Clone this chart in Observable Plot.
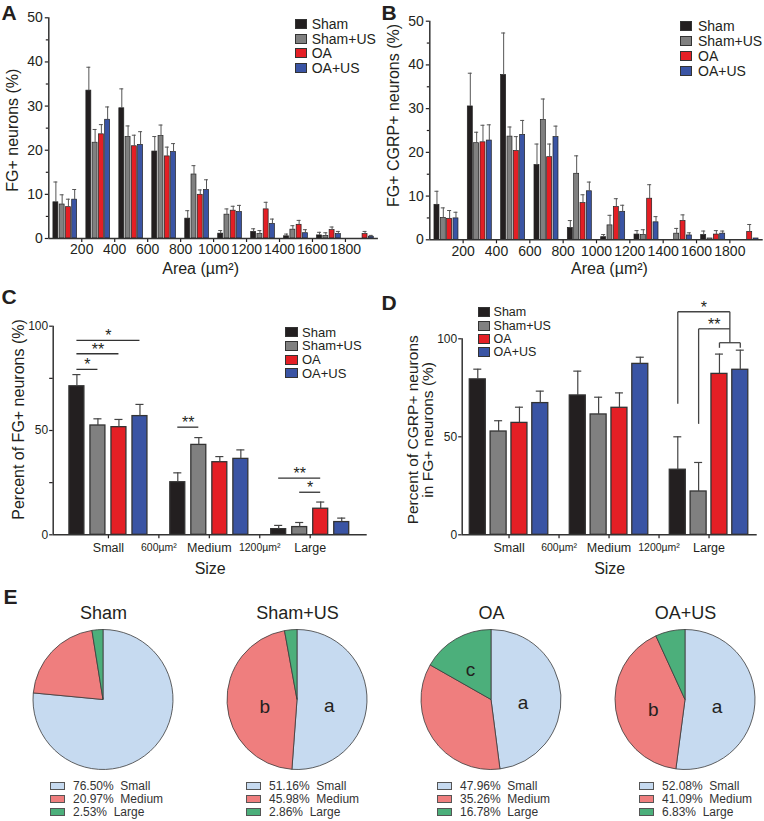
<!DOCTYPE html>
<html><head><meta charset="utf-8">
<script src="https://cdn.jsdelivr.net/npm/d3@7"></script>
<script src="https://cdn.jsdelivr.net/npm/@observablehq/plot@0.6"></script>
<style>
body{margin:0;background:#fff;}
#fig{position:relative;width:764px;height:821px;overflow:hidden;background:#fff;font-family:"Liberation Sans",Arial,Helvetica,sans-serif;color:#231f20;}
.letter{position:absolute;font-weight:bold;font-size:21px;line-height:21px;}
.legend{position:absolute;}
.row{display:flex;align-items:center;white-space:pre;}
.sw{box-sizing:border-box;border:1px solid #333;flex:none;}
</style></head>
<body><div id="fig"></div>
<script>
const FONT = "'Liberation Sans', Arial, Helvetica, sans-serif";
const INK = "#231f20";

// ---------- shared ----------
const groups = ["Sham", "Sham+US", "OA", "OA+US"];
const groupColors = ["#231f20", "#808080", "#e41f25", "#3a54a4"];

// ---------- Panel A: FG+ neurons (%) by area ----------
const areaBins  = [0, 200, 400, 600, 800, 1000, 1200, 1400, 1600, 1800];
const areaTicks = [200, 400, 600, 800, 1000, 1200, 1400, 1600, 1800];
const fgSham      = [8.2, 33.5, 29.5, 19.7, 4.5, 1.1, 1.5, 0.5, 0.7, 0];
const fgShamErr   = [4.6, 5.3, 4.4, 3.4, 1.8, 0.7, 0.7, 0.5, 0.7, 0];
const fgShamUS    = [7.7, 21.7, 23.0, 23.2, 14.5, 5.4, 1.0, 2.0, 0.6, 0];
const fgShamUSErr = [2.2, 3.0, 2.5, 2.5, 2.0, 1.3, 0.8, 0.9, 0.7, 0];
const fgOA        = [7.1, 23.6, 20.9, 18.6, 9.9, 6.3, 6.6, 3.1, 1.9, 1.0];
const fgOAErr     = [1.8, 2.2, 2.5, 2.1, 1.1, 1.0, 1.6, 1.0, 0.7, 0.6];
const fgOAUS      = [8.8, 26.9, 21.2, 19.6, 11.0, 6.0, 3.3, 1.2, 1.0, 0.4];
const fgOAUSErr   = [2.3, 2.9, 3.0, 1.9, 2.3, 1.5, 1.1, 0.8, 0.6, 0.3];

// ---------- Panel B: FG+ CGRP+ neurons (%) by area ----------
const cgSham      = [8.0, 30.5, 37.7, 17.1, 2.7, 0.6, 1.2, 0, 1.1, 0];
const cgShamErr   = [3.1, 7.6, 9.6, 4.8, 1.7, 0.6, 0.9, 0, 0.9, 0];
const cgShamUS    = [5.0, 22.1, 23.6, 27.4, 15.1, 3.3, 1.1, 1.4, 0.3, 0];
const cgShamUSErr = [2.3, 2.5, 2.2, 4.8, 4.1, 2.3, 1.2, 1.2, 0, 0];
const cgOA        = [4.8, 22.3, 20.3, 18.9, 8.4, 7.5, 9.4, 4.3, 1.2, 1.8];
const cgOAErr     = [1.9, 3.9, 3.3, 3.0, 1.9, 1.9, 3.2, 1.4, 0.9, 1.7];
const cgOAUS      = [4.9, 22.7, 24.0, 23.5, 11.1, 6.4, 4.0, 1.0, 1.4, 0.3];
const cgOAUSErr   = [1.4, 3.6, 3.3, 2.5, 2.1, 1.5, 1.3, 0.6, 0.6, 0];

// ---------- Panel C: Percent of FG+ neurons by size ----------
const sizes = ["Small", "Medium", "Large"];
const sizeBounds = [600, 1200];
const sizeBoundLabels = ["600µm²", "1200µm²"];
const pctSham      = [71.2, 25.2, 2.7];
const pctShamErr   = [5.6, 4.5, 1.8];
const pctShamUS    = [52.4, 43.1, 3.7];
const pctShamUSErr = [3.2, 3.5, 2.2];
const pctOA        = [51.6, 34.8, 12.5];
const pctOAErr     = [3.7, 2.7, 3.2];
const pctOAUS      = [56.9, 36.4, 6.1];
const pctOAUSErr   = [5.6, 4.3, 1.9];
const sigCSize  = ["Small", "Small", "Small", "Medium", "Large", "Large"];
const sigCFrom  = ["Sham", "Sham", "Sham", "Sham", "Sham", "Sham+US"];
const sigCTo    = ["OA+US", "OA", "Sham+US", "Sham+US", "OA", "OA"];
const sigCY     = [93.2, 86.8, 79.3, 51.6, 27.2, 20.4];
const sigCLabel = ["*", "**", "*", "**", "**", "*"];

// ---------- Panel D: Percent of CGRP+ in FG+ neurons by size ----------
const cgpSham      = [79.3, 71.1, 33.2];
const cgpShamErr   = [5.2, 12.4, 16.8];
const cgpShamUS    = [52.7, 61.4, 22.1];
const cgpShamUSErr = [5.5, 8.8, 14.8];
const cgpOA        = [57.1, 64.8, 82.1];
const cgpOAErr     = [8.0, 7.6, 10.1];
const cgpOAUS      = [67.2, 87.2, 84.2];
const cgpOAUSErr   = [6.1, 3.4, 10.0];
const sigDFrom  = ["Sham", "Sham+US"];
const sigDBase  = [66.8, 56.6];
const sigDY     = [113.8, 105.1];
const sigDLabel = ["*", "**"];
const sigDPair  = ["OA", "OA+US"];
const sigDPairY = 98.0;
const sigDPairTick = 95.4;

// ---------- Panel E: pies ----------
const pieNames  = ["Sham", "Sham+US", "OA", "OA+US"];
const pieSmall  = [76.50, 51.16, 47.96, 52.08];
const pieMedium = [20.97, 45.98, 35.26, 41.09];
const pieLarge  = [2.53, 2.86, 16.78, 6.83];
const pieLetters = [["", "", ""], ["a", "b", ""], ["a", "", "c"], ["a", "b", ""]];
const sizeColors = ["#c6daf0", "#ef7e7e", "#4caf7b"];

// =====================================================================
const fig = document.getElementById("fig");
function place(el, left, top) {
  el.style.position = "absolute";
  el.style.left = left + "px";
  el.style.top = top + "px";
  fig.appendChild(el);
  return el;
}
const baseStyle = {fontFamily: FONT, background: "transparent", overflow: "visible", color: INK};
const plain = d => String(d);

// ---------- histogram panels ----------
const histStep = 38, histBarW = 30, histCap = 12;
function histRows(means, errs) {
  return groups.flatMap((g, gi) => areaBins.map((b, bi) => ({
    group: g,
    xc: b + 100 + (gi - 1.5) * histStep,
    value: means[gi][bi],
    top: means[gi][bi] + errs[gi][bi]
  }))).filter(d => d.value > 0);
}
function histPlot(o) {
  const rows = histRows(o.means, o.errs);
  const errRows = rows.filter(d => d.top > d.value);
  return Plot.plot({
    width: o.width, height: 280,
    marginLeft: o.ml, marginRight: o.mr, marginTop: o.mt, marginBottom: o.mb,
    x: {domain: [0, 2000]},
    y: {domain: [0, 50]},
    color: {domain: groups, range: groupColors},
    style: baseStyle,
    marks: [
      Plot.rect(rows, {x1: d => d.xc - histBarW / 2, x2: d => d.xc + histBarW / 2, y1: 0, y2: "value",
        fill: "group", stroke: "#222", strokeWidth: 0.7}),
      Plot.ruleX(errRows, {x: "xc", y1: "value", y2: "top", stroke: "#555", strokeWidth: 1}),
      Plot.ruleY(errRows, {y: "top", x1: d => d.xc - histCap, x2: d => d.xc + histCap, stroke: "#555", strokeWidth: 1}),
      Plot.axisY({ticks: [0, 10, 20, 30, 40, 50], tickFormat: plain, tickSize: 3.5, tickPadding: 2.5, fontSize: 14, label: null, strokeWidth: 1.2}),
      Plot.axisY({ticks: [5, 15, 25, 35, 45], tickSize: 2.5, tickFormat: () => "", label: null, strokeWidth: 1.2}),
      Plot.axisX({ticks: areaTicks, tickFormat: plain, tickSize: 4, tickPadding: 2, fontSize: 14, label: null, strokeWidth: 1.2}),
      Plot.ruleX([0], {stroke: "#333", strokeWidth: 1.5}),
      Plot.ruleY([0], {stroke: "#333", strokeWidth: 1.5}),
      Plot.text([o.yLabel], {frameAnchor: "left", rotate: -90, dx: o.ylDx, dy: o.ylDy, fontSize: 16, textAnchor: "middle", lineAnchor: "middle"}),
      Plot.text(["Area (µm²)"], {frameAnchor: "bottom", dx: o.xlDx, dy: o.xlDy, fontSize: 16, textAnchor: "middle", lineAnchor: "middle"})
    ]
  });
}

place(histPlot({
  means: [fgSham, fgShamUS, fgOA, fgOAUS], errs: [fgShamErr, fgShamUSErr, fgOAErr, fgOAUSErr],
  width: 380, ml: 48.3, mr: 2.1, mt: 17.3, mb: 42,
  yLabel: "FG+ neurons (%)", ylDx: -35.8, ylDy: 2, xlDx: -13, xlDy: 30
}), 0, 0);

place(histPlot({
  means: [cgSham, cgShamUS, cgOA, cgOAUS], errs: [cgShamErr, cgShamUSErr, cgOAErr, cgOAUSErr],
  width: 384, ml: 49.3, mr: 1.3, mt: 20.7, mb: 40.7,
  yLabel: "FG+ CGRP+ neurons (%)", ylDx: -36, ylDy: -15, xlDx: 13, xlDy: 28.7
}), 380, 0);

// ---------- size panels ----------
const sizeStep = 125, sizeCap = 24;
function barX(size, group) {
  return sizes.indexOf(size) * 600 + 300 + (groups.indexOf(group) - 1.5) * sizeStep;
}
function sizeRows(means, errs) {
  return sizes.flatMap((s, si) => groups.map((g, gi) => ({
    size: s, group: g, xc: barX(s, g), value: means[gi][si], top: means[gi][si] + errs[gi][si]
  })));
}
function sizePlot(o) {
  const rows = sizeRows(o.means, o.errs);
  const marks = [
    Plot.rect(rows, {x1: d => d.xc - o.barW / 2, x2: d => d.xc + o.barW / 2, y1: 0, y2: "value",
      fill: "group", stroke: "#333", strokeWidth: 1.3}),
    Plot.ruleX(rows, {x: "xc", y1: "value", y2: "top", stroke: "#444", strokeWidth: 1.2}),
    Plot.ruleY(rows, {y: "top", x1: d => d.xc - sizeCap, x2: d => d.xc + sizeCap, stroke: "#444", strokeWidth: 1.2}),
    Plot.axisY({ticks: [0, 50, 100], tickFormat: plain, tickSize: 3.5, tickPadding: 1.5, fontSize: 12, label: null, strokeWidth: 1.2}),
    Plot.axisX({ticks: sizes.map((s, i) => i * 600 + 300), tickFormat: (d, i) => sizes[i], tickSize: 4, tickPadding: 4.5, fontSize: 12.5, label: null, strokeWidth: 1.2}),
    Plot.axisX({ticks: sizeBounds, tickFormat: (d, i) => sizeBoundLabels[i], tickSize: 4, tickPadding: 4.5, fontSize: 10.5, label: null, strokeWidth: 1.2}),
    Plot.ruleX([o.xDomain[0]], {y1: 0, y2: 100, stroke: "#333", strokeWidth: 1.5}),
    Plot.ruleY([0], {stroke: "#333", strokeWidth: 1.5}),
    Plot.text([o.yLabel], {frameAnchor: "left", rotate: -90, dx: o.ylDx, dy: o.ylDy, fontSize: o.ylSize, lineHeight: 0.95, textAnchor: "middle", lineAnchor: "middle"}),
    Plot.text(["Size"], {frameAnchor: "bottom", dy: 33.7, fontSize: 16, textAnchor: "middle", lineAnchor: "middle"})
  ];
  if (o.minor) marks.push(Plot.axisY({ticks: o.minor, tickSize: 3.5, tickFormat: () => "", label: null, strokeWidth: 1.2}));
  return Plot.plot({
    width: o.width, height: 295,
    marginLeft: o.ml, marginRight: o.mr, marginTop: o.mt, marginBottom: 40.7,
    x: {domain: o.xDomain},
    y: {domain: [0, 100]},
    color: {domain: groups, range: groupColors},
    style: baseStyle,
    marks: marks.concat(o.extra)
  });
}

// C significance
const sigC = sigCY.map((y, i) => ({
  x1: barX(sigCSize[i], sigCFrom[i]), x2: barX(sigCSize[i], sigCTo[i]), y, label: sigCLabel[i]
}));
place(sizePlot({
  means: [pctSham, pctShamUS, pctOA, pctOAUS], errs: [pctShamErr, pctShamUSErr, pctOAErr, pctOAUSErr],
  width: 380, ml: 52.7, mr: 13.3, mt: 45.7, xDomain: [-28.5, 1839], barW: 89, minor: [25, 75],
  yLabel: "Percent of FG+ neurons (%)", ylDx: -34.2, ylDy: -11, ylSize: 16,
  extra: [
    Plot.ruleY(sigC, {y: "y", x1: "x1", x2: "x2", stroke: "#333", strokeWidth: 1.3}),
    Plot.text(sigC, {x: d => (d.x1 + d.x2) / 2, y: "y", text: "label", lineAnchor: "bottom", dy: 1, fontSize: 16})
  ]
}), 0, 280);

// D significance brackets
const pairA = barX("Large", sigDPair[0]), pairB = barX("Large", sigDPair[1]);
const pairMid = (pairA + pairB) / 2;
const segD = [
  ...sigDFrom.flatMap((g, i) => [
    {x1: barX("Large", g), y1: sigDBase[i], x2: barX("Large", g), y2: sigDY[i]},
    {x1: barX("Large", g), y1: sigDY[i], x2: pairMid, y2: sigDY[i]}
  ]),
  {x1: pairMid, y1: sigDPairY, x2: pairMid, y2: d3.max(sigDY)},
  {x1: pairA, y1: sigDPairY, x2: pairB, y2: sigDPairY},
  {x1: pairA, y1: sigDPairTick, x2: pairA, y2: sigDPairY},
  {x1: pairB, y1: sigDPairTick, x2: pairB, y2: sigDPairY}
];
const starD = sigDFrom.map((g, i) => ({x: (barX("Large", g) + pairMid) / 2, y: sigDY[i], label: sigDLabel[i]}));
place(sizePlot({
  means: [cgpSham, cgpShamUS, cgpOA, cgpOAUS], errs: [cgpShamErr, cgpShamUSErr, cgpOAErr, cgpOAUSErr],
  width: 384, ml: 81.7, mr: 7.3, mt: 58.3, xDomain: [19, 1789], barW: 96, minor: null,
  yLabel: "Percent of CGRP+ neurons\nin FG+ neurons (%)", ylDx: -41.7, ylDy: -7, ylSize: 15.5,
  extra: [
    Plot.link(segD, {x1: "x1", y1: "y1", x2: "x2", y2: "y2", stroke: "#444", strokeWidth: 1.3}),
    Plot.text(starD, {x: "x", y: "y", text: "label", lineAnchor: "bottom", dy: 1, fontSize: 16})
  ]
}), 380, 280);

// ---------- legends for A-D ----------
function groupLegend(left, top, rowH, fontSize, swW, swH, gap) {
  const div = document.createElement("div");
  div.className = "legend";
  div.style.fontSize = fontSize + "px";
  groups.forEach((g, i) => {
    const row = document.createElement("div");
    row.className = "row";
    row.style.height = rowH + "px";
    const sw = document.createElement("span");
    sw.className = "sw";
    sw.style.width = swW + "px"; sw.style.height = swH + "px";
    sw.style.background = groupColors[i];
    sw.style.marginRight = gap + "px";
    row.appendChild(sw);
    row.appendChild(document.createTextNode(g));
    div.appendChild(row);
  });
  return place(div, left, top);
}
groupLegend(295, 24 - 7.33, 14.67, 14, 12, 10, 4.7);
groupLegend(680, 26 - 7.5, 15, 14, 12, 10, 6);
groupLegend(285, 332.3 - 6.85, 13.7, 13, 12.5, 10, 4.5);
groupLegend(477.7, 312.3 - 6.65, 13.3, 12.5, 12.3, 10, 3.6);

// ---------- panel letters ----------
[["A", 1.5, 2.4], ["B", 381.5, 2.4], ["C", 1.5, 285.5], ["D", 381.5, 292.4], ["E", 3.5, 585.7]].forEach(([t, x, y]) => {
  const d = document.createElement("div");
  d.className = "letter";
  d.textContent = t;
  place(d, x, y);
});

// ---------- pies ----------
const sizeScale = Plot.scale({color: {type: "ordinal", domain: sizes, range: sizeColors}});
const pieR = 70, pieCy = 109.5, pieLetterR = [0.46, 0.46, 0.58];
function pieMark(values, letters) {
  return (index, scales, channels, dims) => {
    const cx = dims.width / 2;
    const arcs = d3.pie().sort(null).value(d => d)(values);
    const arc = d3.arc().innerRadius(0).outerRadius(pieR);
    const g = d3.create("svg:g").attr("transform", `translate(${cx},${pieCy})`);
    g.selectAll("path").data(arcs).join("path")
      .attr("d", arc)
      .attr("fill", (d, i) => sizeScale.apply(sizes[i]))
      .attr("stroke", "#3a3a3a").attr("stroke-width", 0.8);
    g.selectAll("text").data(arcs).join("text")
      .attr("transform", (d, i) => {
        const r = pieR * pieLetterR[i];
        return `translate(${d3.arc().innerRadius(r).outerRadius(r).centroid(d)})`;
      })
      .attr("text-anchor", "middle").attr("dy", "0.62em")
      .attr("font-size", 19).attr("fill", INK)
      .text((d, i) => letters[i]);
    return g.node();
  };
}
const pieCx = [102.5, 297, 490.5, 685];
const pieLegendX = [50, 246, 437, 639];
pieNames.forEach((name, i) => {
  const vals = [pieSmall[i], pieMedium[i], pieLarge[i]];
  const svg = Plot.plot({
    width: 150, height: 185, margin: 0,
    style: baseStyle,
    marks: [
      Plot.text([name], {frameAnchor: "top", dy: 23, fontSize: 18, textAnchor: "middle", lineAnchor: "middle"}),
      pieMark(vals, pieLetters[i])
    ]
  });
  place(svg, pieCx[i] - 75, 590);

  const div = document.createElement("div");
  div.className = "legend";
  div.style.fontSize = "12px";
  div.style.color = "#333";
  sizes.forEach((s, k) => {
    const row = document.createElement("div");
    row.className = "row";
    row.style.height = "13px";
    const sw = document.createElement("span");
    sw.className = "sw";
    sw.style.width = "15px"; sw.style.height = "8px";
    sw.style.border = "1px solid #555";
    sw.style.background = sizeColors[k];
    sw.style.marginRight = "8px";
    row.appendChild(sw);
    row.appendChild(document.createTextNode(vals[k].toFixed(2) + "%  " + s));
    div.appendChild(row);
  });
  place(div, pieLegendX[i], 779.5);
});
</script>
</body></html>
